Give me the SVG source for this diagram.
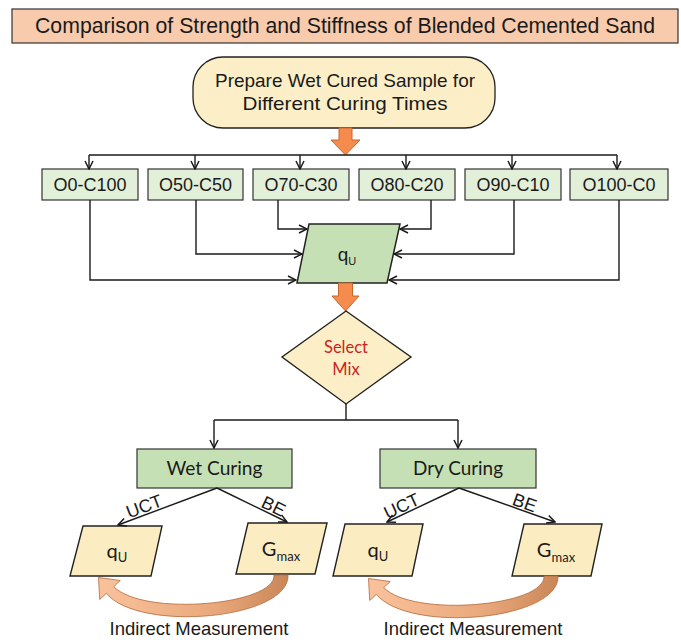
<svg xmlns="http://www.w3.org/2000/svg" width="681" height="640" viewBox="0 0 681 640">
<defs>
<style>
.a{font-family:"Liberation Sans",Arial,sans-serif;fill:#1a1a1a}
.c{font-family:Lato,"Liberation Sans",sans-serif;fill:#1a1a1a}
.ln{fill:none;stroke:#1a1a1a;stroke-width:1.4}
.bx{stroke:#333;stroke-width:1.2}
.org{fill:#f58c4e;stroke:#c9652a;stroke-width:1}
.crv{fill:url(#g);stroke:#b46a3a;stroke-width:0.8}
</style>
<marker id="ar" viewBox="0 0 10 10" refX="9" refY="5" markerWidth="10" markerHeight="10" markerUnits="userSpaceOnUse" orient="auto">
<path d="M1,1 L9,5 L1,9" fill="none" stroke="#1a1a1a" stroke-width="1.5"/>
</marker>
<linearGradient id="g" x1="0" y1="0" x2="1" y2="0">
<stop offset="0" stop-color="#f9c29c"/>
<stop offset="0.6" stop-color="#eaa97c"/>
<stop offset="1" stop-color="#c98659"/>
</linearGradient>
</defs>
<rect width="681" height="640" fill="#fff"/>

<g id="title">
<rect x="12" y="9" width="666" height="34" fill="#f8cbad" stroke="#333" stroke-width="1.2"/>
<text class="a" x="345" y="33" font-size="22" text-anchor="middle" textLength="620" lengthAdjust="spacingAndGlyphs">Comparison of Strength and Stiffness of Blended Cemented Sand</text>
</g>

<g id="prepare">
<rect x="193" y="57" width="302" height="71" rx="30" fill="#fcefc7" stroke="#222" stroke-width="1.3"/>
<text class="a" x="345" y="87" font-size="18.5" text-anchor="middle" textLength="260" lengthAdjust="spacingAndGlyphs">Prepare Wet Cured Sample for</text>
<text class="a" x="345" y="110" font-size="18.5" text-anchor="middle" textLength="205" lengthAdjust="spacingAndGlyphs">Different Curing Times</text>
</g>

<g id="arrow1">
<path class="org" d="M339,128 L352,128 L352,140 L360,140 L345.5,155 L331,140 L339,140 Z"/>
</g>

<g id="mix-O0-C100"><rect class="bx" x="42" y="169" width="96" height="31" fill="#e2efd9"/><text class="a" x="90" y="191" font-size="18" text-anchor="middle">O0-C100</text></g>
<g id="mix-O50-C50"><rect class="bx" x="148" y="169" width="95" height="31" fill="#e2efd9"/><text class="a" x="195.5" y="191" font-size="18" text-anchor="middle">O50-C50</text></g>
<g id="mix-O70-C30"><rect class="bx" x="253" y="169" width="96" height="31" fill="#e2efd9"/><text class="a" x="301" y="191" font-size="18" text-anchor="middle">O70-C30</text></g>
<g id="mix-O80-C20"><rect class="bx" x="359" y="169" width="96" height="31" fill="#e2efd9"/><text class="a" x="407" y="191" font-size="18" text-anchor="middle">O80-C20</text></g>
<g id="mix-O90-C10"><rect class="bx" x="465" y="169" width="96" height="31" fill="#e2efd9"/><text class="a" x="513" y="191" font-size="18" text-anchor="middle">O90-C10</text></g>
<g id="mix-O100-C0"><rect class="bx" x="570" y="169" width="98" height="31" fill="#e2efd9"/><text class="a" x="619" y="191" font-size="18" text-anchor="middle">O100-C0</text></g>

<g id="qu-main">
<polygon points="309,224 400,224 387,283 297,283" fill="#c5e0b4" stroke="#222" stroke-width="1.5"/>
<text class="a" x="347" y="261" font-size="19" text-anchor="middle">q<tspan font-size="11" dy="4">U</tspan></text>
</g>

<g id="arrow2">
<path class="org" d="M338.5,283 L352.5,283 L352.5,296 L359,296 L345.5,311 L332,296 L338.5,296 Z"/>
</g>

<g id="select-mix">
<polygon points="346,311 411,357 346,404 282,357" fill="#fcefc7" stroke="#222" stroke-width="1.4"/>
<text class="c" x="346" y="353" font-size="16.5" text-anchor="middle" style="fill:#cc1f1f">Select</text>
<text class="c" x="346" y="375" font-size="16.5" text-anchor="middle" style="fill:#cc1f1f">Mix</text>
</g>

<g id="wet-curing">
<rect class="bx" x="137" y="449" width="155" height="39" fill="#c5e0b4"/>
<text class="c" x="214.5" y="475" font-size="19.5" text-anchor="middle" textLength="96" lengthAdjust="spacingAndGlyphs">Wet Curing</text>
</g>
<g id="dry-curing">
<rect class="bx" x="380" y="449" width="156" height="39" fill="#c5e0b4"/>
<text class="c" x="458" y="475" font-size="19.5" text-anchor="middle" textLength="90" lengthAdjust="spacingAndGlyphs">Dry Curing</text>
</g>

<g id="wet-qu">
<polygon points="83,526 162,526 151,576 70,576" fill="#fcecc2" stroke="#222" stroke-width="1.4"/>
<text class="c" x="117" y="558" font-size="20" text-anchor="middle">q<tspan font-size="13" dy="4">U</tspan></text>
</g>
<g id="wet-gmax">
<polygon points="248,523 327,523 315,574 236,574" fill="#fcecc2" stroke="#222" stroke-width="1.4"/>
<text class="c" x="281" y="556" font-size="20" text-anchor="middle">G<tspan font-size="13" dy="5">max</tspan></text>
</g>
<g id="dry-qu">
<polygon points="345,524 423,524 412,576 333,576" fill="#fcecc2" stroke="#222" stroke-width="1.4"/>
<text class="c" x="378" y="557" font-size="20" text-anchor="middle">q<tspan font-size="13" dy="4">U</tspan></text>
</g>
<g id="dry-gmax">
<polygon points="524,524 602,524 591,576 512,576" fill="#fcecc2" stroke="#222" stroke-width="1.4"/>
<text class="c" x="556" y="557" font-size="20" text-anchor="middle">G<tspan font-size="13" dy="5">max</tspan></text>
</g>

<g id="connectors">
<path class="ln" d="M89,155 L617,155"/>
<path class="ln" d="M89,155 V169" marker-end="url(#ar)"/>
<path class="ln" d="M195,155 V169" marker-end="url(#ar)"/>
<path class="ln" d="M300,155 V169" marker-end="url(#ar)"/>
<path class="ln" d="M406,155 V169" marker-end="url(#ar)"/>
<path class="ln" d="M512,155 V169" marker-end="url(#ar)"/>
<path class="ln" d="M617,155 V169" marker-end="url(#ar)"/>

<path class="ln" d="M90,200 V280 H296" marker-end="url(#ar)"/>
<path class="ln" d="M196,200 V254 H302" marker-end="url(#ar)"/>
<path class="ln" d="M278,200 V229 H307" marker-end="url(#ar)"/>
<path class="ln" d="M431,200 V229 H400" marker-end="url(#ar)"/>
<path class="ln" d="M514,200 V254 H394" marker-end="url(#ar)"/>
<path class="ln" d="M619,200 V280 H389" marker-end="url(#ar)"/>

<path class="ln" d="M346,404 V420"/>
<path class="ln" d="M214,420 H458"/>
<path class="ln" d="M214,420 V448" marker-end="url(#ar)"/>
<path class="ln" d="M458,420 V448" marker-end="url(#ar)"/>

<path class="ln" d="M217,488 L118,525" marker-end="url(#ar)"/>
<path class="ln" d="M217,488 L287,522" marker-end="url(#ar)"/>
<path class="ln" d="M459,488 L387,522" marker-end="url(#ar)"/>
<path class="ln" d="M459,488 L555,522" marker-end="url(#ar)"/>

<text class="a" font-size="18" text-anchor="middle" y="-2" transform="translate(147,514) rotate(-20.5)">UCT</text>
<text class="a" font-size="18" text-anchor="middle" y="-2" transform="translate(270,513.5) rotate(26)">BE</text>
<text class="a" font-size="18" text-anchor="middle" y="-2" transform="translate(405,513.5) rotate(-25)">UCT</text>
<text class="a" font-size="18" text-anchor="middle" y="-2" transform="translate(522,510.5) rotate(19.5)">BE</text>

<path class="crv" d="M274,575 C276,605 144,617 113.7,586.6 L120.3,580.5 L98.5,577.5 L99.7,599.5 L106.3,593.4 C140,633 290,619 288,575 Z"/>
<path class="crv" transform="translate(270,1)" d="M274,575 C276,605 144,617 113.7,586.6 L120.3,580.5 L98.5,577.5 L99.7,599.5 L106.3,593.4 C140,633 290,619 288,575 Z"/>

<text class="a" x="199" y="635" font-size="18.5" text-anchor="middle">Indirect Measurement</text>
<text class="a" x="473" y="635" font-size="18.5" text-anchor="middle">Indirect Measurement</text>
</g>
</svg>
